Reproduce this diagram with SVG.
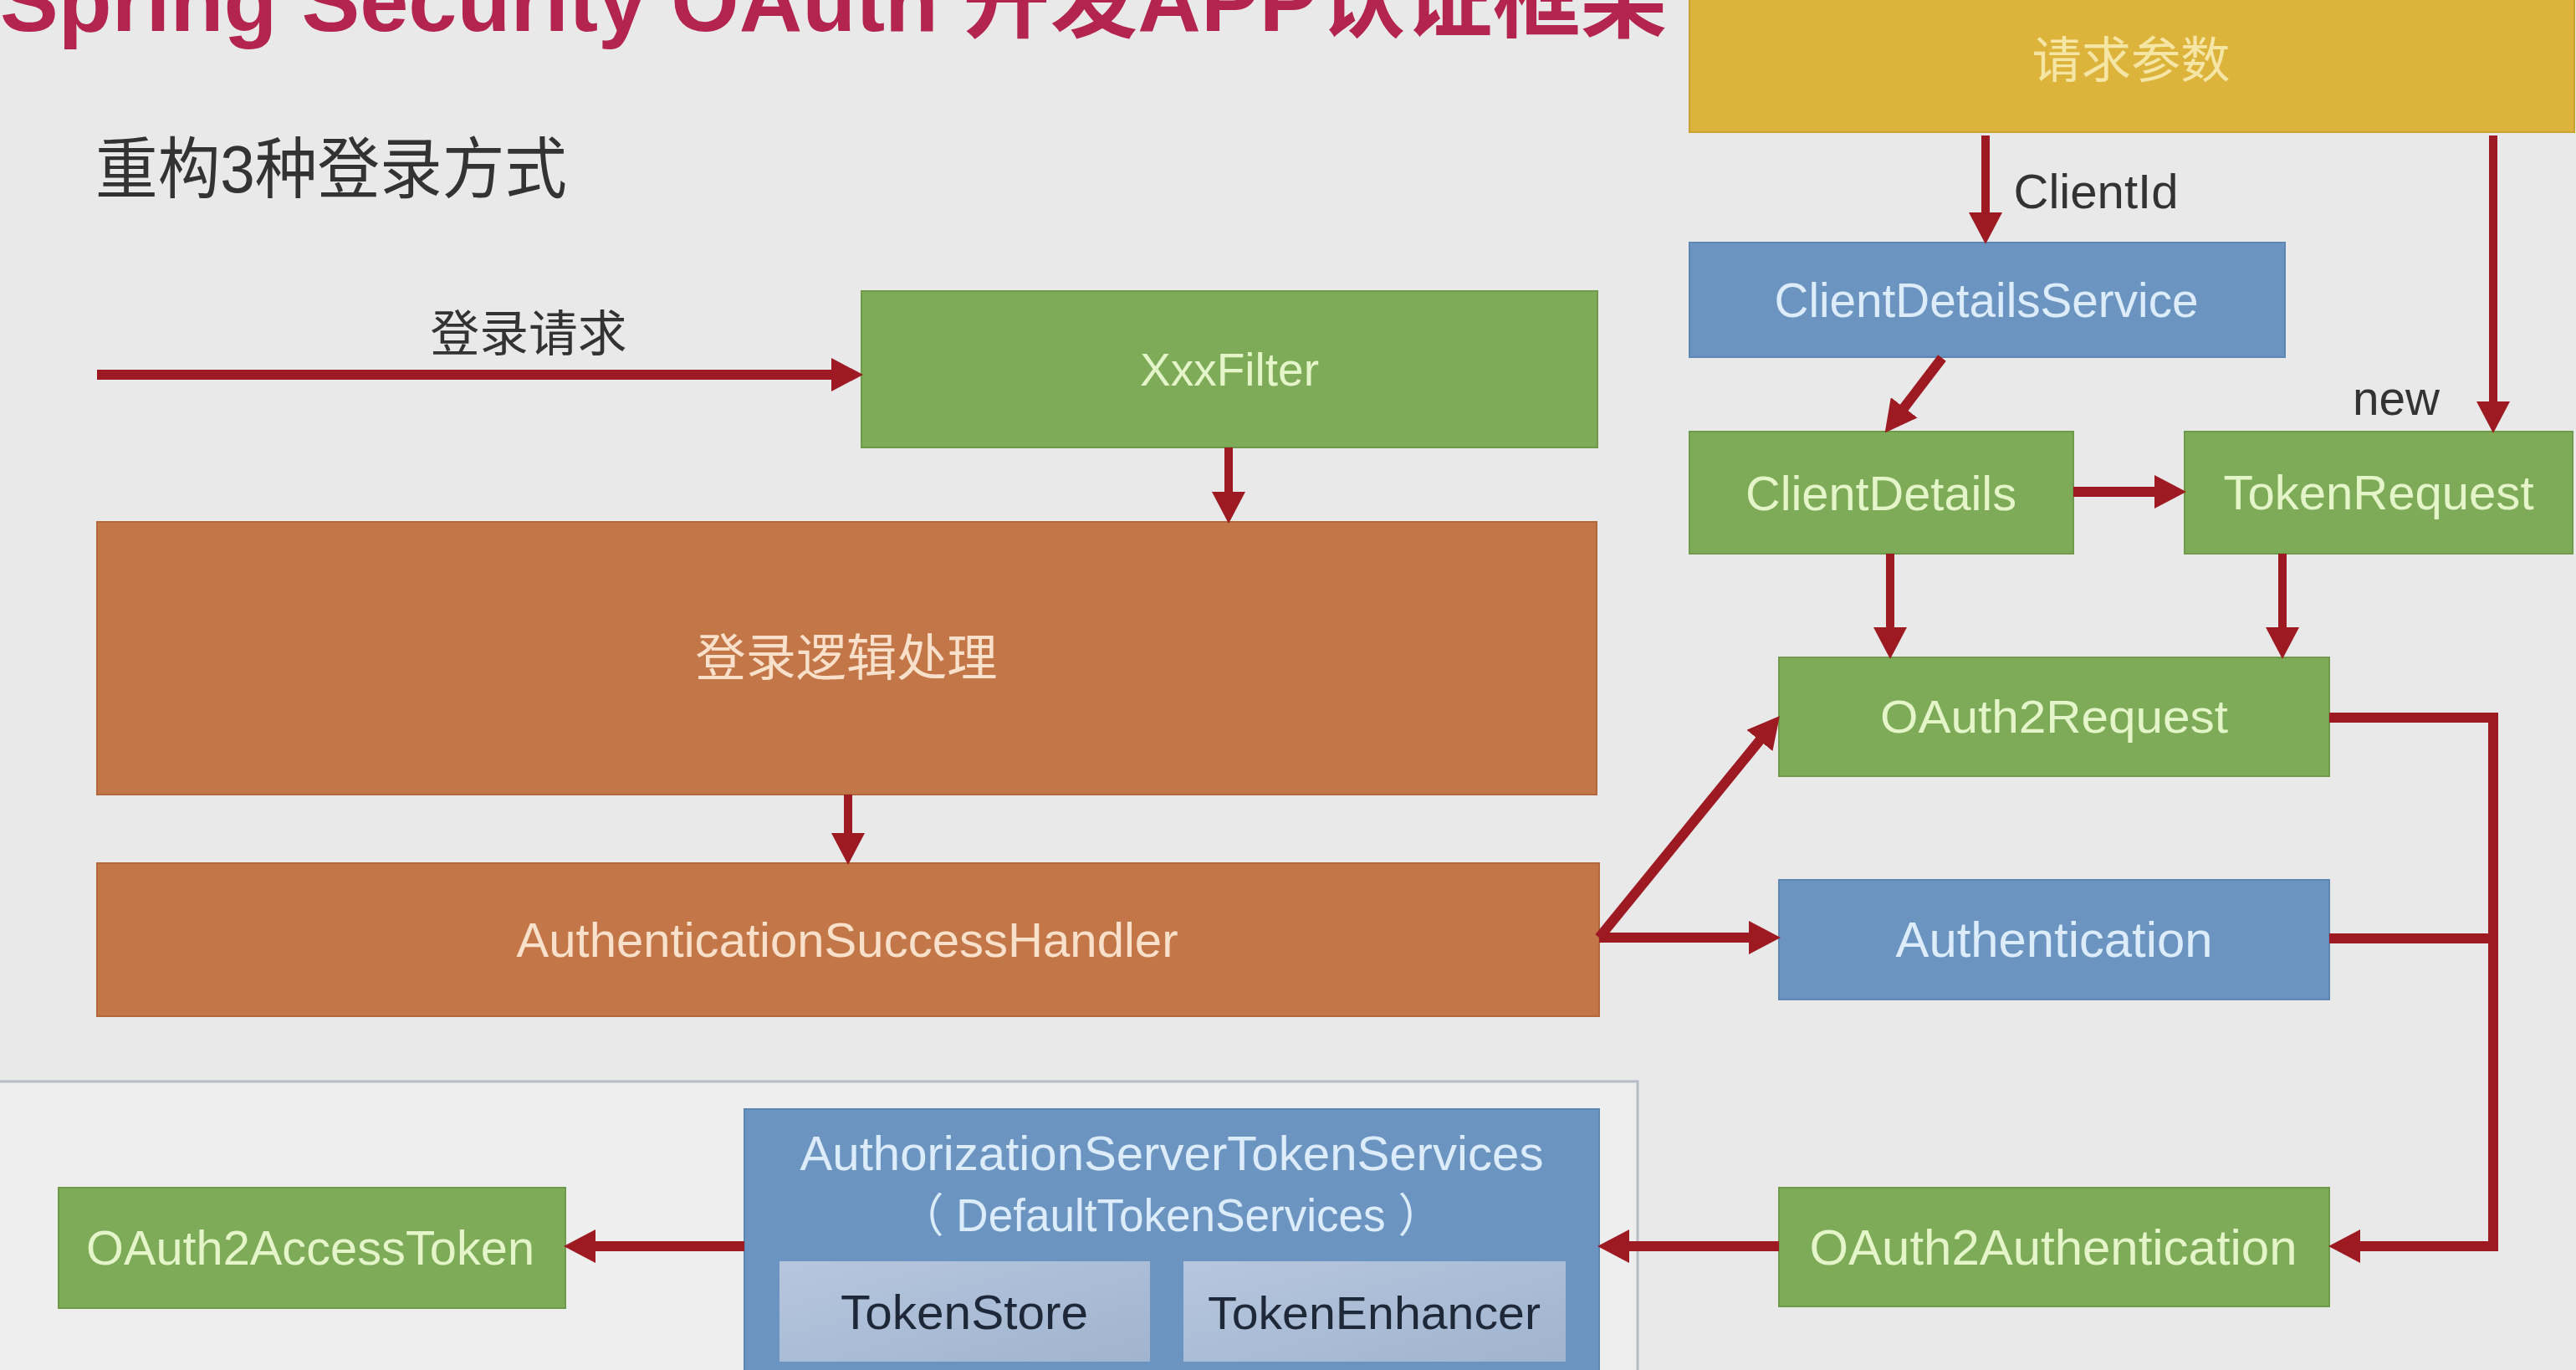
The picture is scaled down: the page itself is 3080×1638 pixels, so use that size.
<svg xmlns="http://www.w3.org/2000/svg" width="3080" height="1638" viewBox="0 0 3080 1638">
<defs>
<marker id="ah" markerUnits="userSpaceOnUse" markerWidth="38" markerHeight="40" refX="16" refY="20" orient="auto">
<path d="M0,0 L38,20 L0,40 z" fill="#9e1a23"/>
</marker>
<linearGradient id="inner" x1="0" y1="0" x2="1" y2="1">
<stop offset="0" stop-color="#b6c6dd"/>
<stop offset="1" stop-color="#a0b4d0"/>
</linearGradient>
<style>
text{font-family:"Liberation Sans","Noto Sans CJK SC",sans-serif;text-anchor:middle;dominant-baseline:central}
.g{fill:#7eab57;stroke:#6e9a4a;stroke-width:2}
.b{fill:#6b95c0;stroke:#5d86b2;stroke-width:2}
.o{fill:#c37647;stroke:#b3683c;stroke-width:2}
.y{fill:#dcb43c;stroke:#c9a232;stroke-width:2}
.tg{fill:#e4f5c9}
.tb{fill:#dcecfb}
.to{fill:#f8e0cb}
.ty{fill:#f6e6a6}
.dark{fill:#333333}
.c{fill:none;stroke:#9e1a23;stroke-width:12}
.cs{fill:none;stroke:#9e1a23;stroke-width:10}
</style>
</defs>
<rect x="0" y="0" width="3080" height="1638" fill="#e9e9e9"/>

<g id="title">
<text x="997" y="37" style="dominant-baseline:alphabetic;font-weight:bold" font-size="104" fill="#b3244f" textLength="1994" lengthAdjust="spacingAndGlyphs">Spring Security OAuth 开发APP认证框架</text>
</g>
<g id="subtitle">
<text x="396" y="202" font-size="80" class="dark" textLength="564" lengthAdjust="spacingAndGlyphs">重构3种登录方式</text>
</g>

<g id="panel">
<rect x="-4" y="1293" width="1962" height="360" fill="#eeeeee" stroke="#b6bcc6" stroke-width="3"/>
</g>

<g id="node-xxxfilter">
<rect class="g" x="1030" y="348" width="880" height="187"/>
<text class="tg" x="1470" y="441" font-size="56" textLength="214" lengthAdjust="spacingAndGlyphs">XxxFilter</text>
</g>
<g id="node-login-logic">
<rect class="o" x="116" y="624" width="1793" height="326"/>
<text class="to" x="1012" y="787" font-size="60" textLength="361" lengthAdjust="spacingAndGlyphs">登录逻辑处理</text>
</g>
<g id="node-ash">
<rect class="o" x="116" y="1032" width="1796" height="183"/>
<text class="to" x="1013" y="1123" font-size="58" textLength="791" lengthAdjust="spacingAndGlyphs">AuthenticationSuccessHandler</text>
</g>
<g id="node-request-params">
<rect class="y" x="2020" y="-10" width="1058" height="168"/>
<text class="ty" x="2548" y="73" font-size="59" textLength="237" lengthAdjust="spacingAndGlyphs">请求参数</text>
</g>
<g id="node-cds">
<rect class="b" x="2020" y="290" width="712" height="137"/>
<text class="tb" x="2375" y="359" font-size="57" textLength="507" lengthAdjust="spacingAndGlyphs">ClientDetailsService</text>
</g>
<g id="node-clientdetails">
<rect class="g" x="2020" y="516" width="459" height="146"/>
<text class="tg" x="2249" y="589" font-size="58" textLength="324" lengthAdjust="spacingAndGlyphs">ClientDetails</text>
</g>
<g id="node-tokenrequest">
<rect class="g" x="2612" y="516" width="464" height="146"/>
<text class="tg" x="2844" y="589" font-size="57" textLength="371" lengthAdjust="spacingAndGlyphs">TokenRequest</text>
</g>
<g id="node-oauth2request">
<rect class="g" x="2127" y="786" width="658" height="142"/>
<text class="tg" x="2456" y="857" font-size="55" textLength="416" lengthAdjust="spacingAndGlyphs">OAuth2Request</text>
</g>
<g id="node-authentication">
<rect class="b" x="2127" y="1052" width="658" height="143"/>
<text class="tb" x="2456" y="1123" font-size="60" textLength="379" lengthAdjust="spacingAndGlyphs">Authentication</text>
</g>
<g id="node-oauth2authentication">
<rect class="g" x="2127" y="1420" width="658" height="142"/>
<text class="tg" x="2455" y="1491" font-size="60" textLength="583" lengthAdjust="spacingAndGlyphs">OAuth2Authentication</text>
</g>
<g id="node-asts">
<rect class="b" x="890" y="1326" width="1022" height="340" stroke="#8fb0d4" stroke-width="4"/>
<text class="tb" x="1401" y="1378" font-size="58" textLength="889" lengthAdjust="spacingAndGlyphs">AuthorizationServerTokenServices</text>
<text class="tb" x="1400" y="1453" font-size="55" textLength="649" lengthAdjust="spacingAndGlyphs">（ DefaultTokenServices ）</text>
</g>
<g id="node-tokenstore">
<rect x="932" y="1508" width="443" height="120" fill="url(#inner)"/>
<text x="1153" y="1569" font-size="57" fill="#1e2838" textLength="296" lengthAdjust="spacingAndGlyphs">TokenStore</text>
</g>
<g id="node-tokenenhancer">
<rect x="1415" y="1508" width="457" height="120" fill="url(#inner)"/>
<text x="1643" y="1569" font-size="56" fill="#1e2838" textLength="398" lengthAdjust="spacingAndGlyphs">TokenEnhancer</text>
</g>
<g id="node-accesstoken">
<rect class="g" x="70" y="1420" width="606" height="144"/>
<text class="tg" x="371" y="1492" font-size="57" textLength="536" lengthAdjust="spacingAndGlyphs">OAuth2AccessToken</text>
</g>

<g id="connectors">
<line class="c" x1="116" y1="448" x2="1010" y2="448" marker-end="url(#ah)"/>
<line class="cs" x1="1469" y1="535" x2="1469" y2="604" marker-end="url(#ah)"/>
<line class="cs" x1="1014" y1="950" x2="1014" y2="1012" marker-end="url(#ah)"/>
<line class="c" x1="1912" y1="1121" x2="2114" y2="873" marker-end="url(#ah)"/>
<line class="c" x1="1912" y1="1121" x2="2107" y2="1121" marker-end="url(#ah)"/>
<line class="cs" x1="2374" y1="162" x2="2374" y2="270" marker-end="url(#ah)"/>
<line class="cs" x1="2981" y1="162" x2="2981" y2="496" marker-end="url(#ah)"/>
<line class="c" x1="2322" y1="428" x2="2267" y2="500" marker-end="url(#ah)"/>
<line class="c" x1="2479" y1="588" x2="2592" y2="588" marker-end="url(#ah)"/>
<line class="cs" x1="2260" y1="662" x2="2260" y2="766" marker-end="url(#ah)"/>
<line class="cs" x1="2729" y1="662" x2="2729" y2="766" marker-end="url(#ah)"/>
<path class="c" d="M2785,858 H2981 V1490 H2806" marker-end="url(#ah)"/>
<line class="c" x1="2785" y1="1122" x2="2981" y2="1122"/>
<line class="c" x1="2127" y1="1490" x2="1932" y2="1490" marker-end="url(#ah)"/>
<line class="c" x1="890" y1="1490" x2="696" y2="1490" marker-end="url(#ah)"/>
<text class="dark" x="632" y="400" font-size="59" textLength="235" lengthAdjust="spacingAndGlyphs">登录请求</text>
<text class="dark" x="2506" y="228" font-size="58" textLength="197" lengthAdjust="spacingAndGlyphs">ClientId</text>
<text class="dark" x="2865" y="476" font-size="57" textLength="104" lengthAdjust="spacingAndGlyphs">new</text>
</g>
</svg>
